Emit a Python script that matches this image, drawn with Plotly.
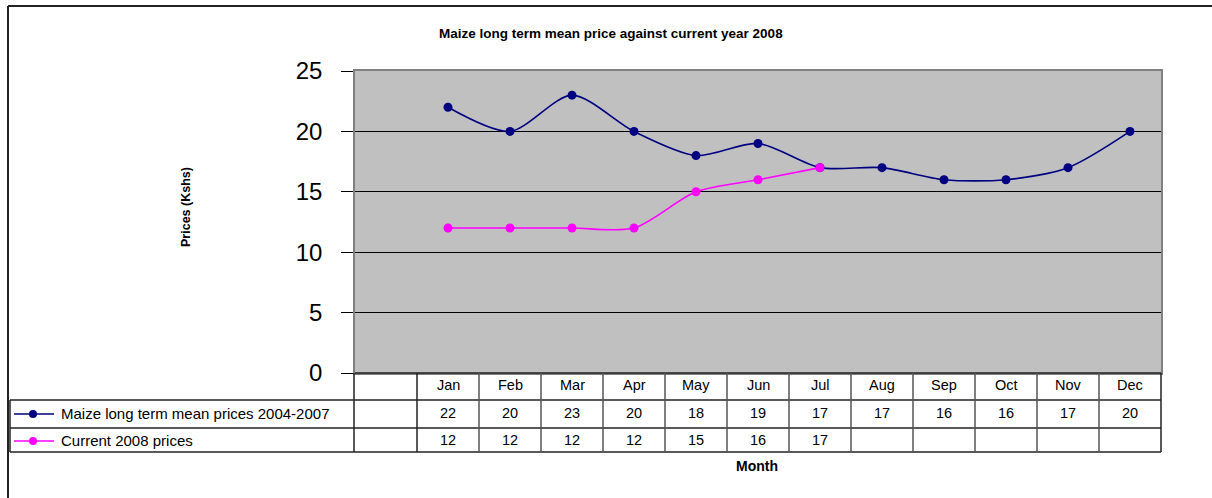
import plotly.graph_objects as go

months = ["Jan", "Feb", "Mar", "Apr", "May", "Jun", "Jul", "Aug", "Sep", "Oct", "Nov", "Dec"]
long_term = [22, 20, 23, 20, 18, 19, 17, 17, 16, 16, 17, 20]
current_2008 = [12, 12, 12, 12, 15, 16, 17]
series_names = ["Maize long term mean prices 2004-2007", "Current 2008 prices"]
series_colors = ["#000080", "#FF00FF"]
title_text = "Maize long term mean price against current year 2008"
y_title = "Prices (Kshs)"
x_title = "Month"

W, H = 1212, 498
L, R, T, B = 355, 1161, 71, 373
FONT = "Arial, Liberation Sans, sans-serif"


def px(x):
    return (x - L) / (R - L)


def py(y):
    return (B - y) / (B - T)


xpos_lt = [i + 1 for i in range(len(long_term))]
xpos_cur = [i + 1 for i in range(len(current_2008))]

fig = go.Figure()
for xs, ys, name, col in [
    (xpos_lt, long_term, series_names[0], series_colors[0]),
    (xpos_cur, current_2008, series_names[1], series_colors[1]),
]:
    fig.add_trace(go.Scatter(
        x=xs, y=ys, name=name, mode="lines+markers",
        line=dict(color=col, width=1.6, shape="spline", smoothing=0.8),
        marker=dict(color=col, size=9),
        showlegend=False, cliponaxis=False,
    ))

shapes = []
annotations = []

# outer chart border
shapes.append(dict(type="line", xref="paper", yref="paper", x0=px(8), x1=px(1212), y0=py(6), y1=py(6),
                   line=dict(color="#222", width=2)))
shapes.append(dict(type="line", xref="paper", yref="paper", x0=px(8), x1=px(8), y0=py(6), y1=py(498),
                   line=dict(color="#222", width=2)))

# data table
row_y = [373, 400, 428, 452]
line_c = "#222"
vline_c = "#555"
shapes.append(dict(type="line", xref="paper", yref="paper", x0=0, x1=1, y0=py(373), y1=py(373),
                   line=dict(color=line_c, width=1.5)))
for yy in row_y[1:]:
    shapes.append(dict(type="line", xref="paper", yref="paper", x0=px(10), x1=1, y0=py(yy), y1=py(yy),
                       line=dict(color=line_c, width=1.5)))
shapes.append(dict(type="line", xref="paper", yref="paper", x0=px(10), x1=px(10), y0=py(400), y1=py(452),
                   line=dict(color=line_c, width=1.5)))
shapes.append(dict(type="line", xref="paper", yref="paper", x0=px(354), x1=px(354), y0=py(373), y1=py(452),
                   line=dict(color=line_c, width=1.5)))
for i in range(len(months)):
    shapes.append(dict(type="line", xref="x", yref="paper", x0=i + 0.5, x1=i + 0.5, y0=py(373), y1=py(452),
                       line=dict(color=vline_c if i > 0 else line_c, width=1.5)))
shapes.append(dict(type="line", xref="paper", yref="paper", x0=1, x1=1, y0=py(373), y1=py(452),
                   line=dict(color=line_c, width=1.5)))

cell_font = dict(family=FONT, size=14.5, color="black")
for i, m in enumerate(months):
    annotations.append(dict(x=i + 1, y=py(385), xref="x", yref="paper", text=m, showarrow=False,
                            font=cell_font, xanchor="center", yanchor="middle"))
for i, v in enumerate(long_term):
    annotations.append(dict(x=i + 1, y=py(413), xref="x", yref="paper", text=str(v), showarrow=False,
                            font=cell_font, xanchor="center", yanchor="middle"))
for i, v in enumerate(current_2008):
    annotations.append(dict(x=i + 1, y=py(440), xref="x", yref="paper", text=str(v), showarrow=False,
                            font=cell_font, xanchor="center", yanchor="middle"))

# legend keys in table
for name, col, yy in zip(series_names, series_colors, [414, 441]):
    shapes.append(dict(type="line", xref="paper", yref="paper", x0=px(14), x1=px(54), y0=py(yy), y1=py(yy),
                       line=dict(color=col, width=1.5)))
    shapes.append(dict(type="circle", xref="paper", yref="paper", xsizemode="pixel", ysizemode="pixel",
                       xanchor=px(33), yanchor=py(yy), x0=-4, x1=4, y0=-4, y1=4,
                       fillcolor=col, line=dict(color=col, width=0)))
    annotations.append(dict(x=px(59), y=py(yy - 1), xref="paper", yref="paper", text=name, showarrow=False,
                            font=dict(family=FONT, size=15, color="black"), xanchor="left", yanchor="middle"))

# titles
annotations.append(dict(x=px(611), y=py(33), xref="paper", yref="paper", text="<b>" + title_text + "</b>",
                        showarrow=False, font=dict(family=FONT, size=13.5, color="black"),
                        xanchor="center", yanchor="middle"))
annotations.append(dict(x=px(186), y=py(207), xref="paper", yref="paper", text="<b>" + y_title + "</b>",
                        showarrow=False, textangle=-90, font=dict(family=FONT, size=12.5, color="black"),
                        xanchor="center", yanchor="middle"))
annotations.append(dict(x=px(757), y=py(466), xref="paper", yref="paper", text="<b>" + x_title + "</b>",
                        showarrow=False, font=dict(family=FONT, size=14, color="black"),
                        xanchor="center", yanchor="middle"))

fig.update_layout(
    width=W, height=H,
    margin=dict(l=L, r=W - R, t=T, b=H - B, pad=0),
    paper_bgcolor="white", plot_bgcolor="#C0C0C0",
    font=dict(family=FONT, color="black"),
    shapes=shapes, annotations=annotations,
    xaxis=dict(range=[-0.5, len(months) + 0.5], showticklabels=False, showgrid=False, zeroline=False,
               showline=True, mirror=True, linecolor="#808080", linewidth=1.5, ticks="", fixedrange=True),
    yaxis=dict(range=[0, 25], dtick=5, tick0=0, showgrid=True, gridcolor="black", gridwidth=1.2,
               zeroline=False, showline=True, mirror=True, linecolor="#808080", linewidth=1.5,
               ticks="outside", ticklen=12, tickcolor="black", tickwidth=1.2,
               tickfont=dict(family=FONT, size=24, color="black"), ticklabelstandoff=14),
)

fig.write_html("out.html", config={"displayModeBar": False},
               post_script="document.body.style.margin='0';document.body.style.overflow='hidden';")
